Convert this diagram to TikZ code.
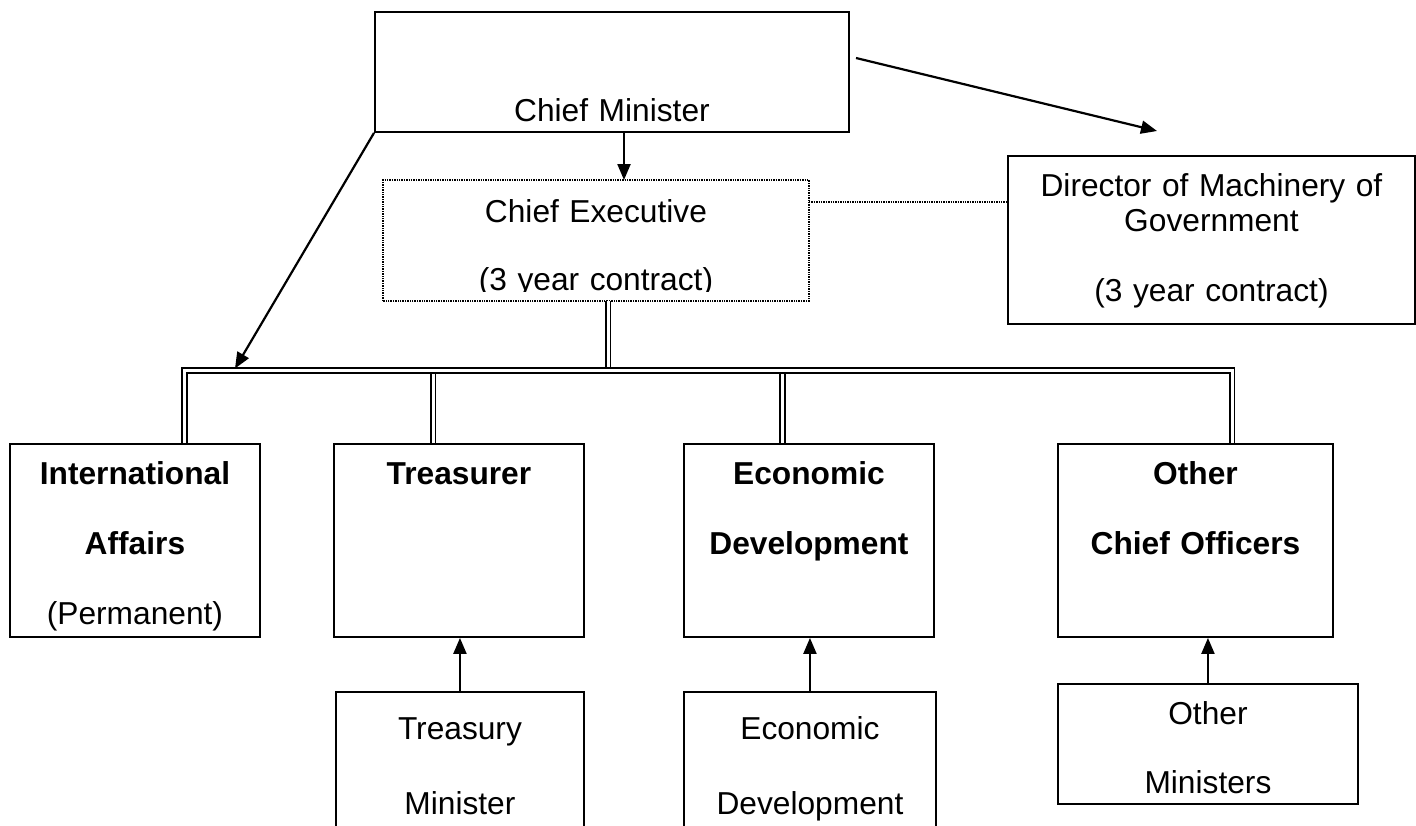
\documentclass[tikz,border=0pt]{standalone}
\usepackage{fontspec}
\setmainfont{Liberation Sans}
\usetikzlibrary{arrows.meta}

\begin{document}
\begin{tikzpicture}[x=1pt,y=-1pt]

		% Define styles
		\tikzstyle{post} = [
		rectangle, anchor=north west, draw=black, line width=1.9pt,
		inner sep=0pt, align=center, font=\fontsize{31.7}{35}\selectfont]
		\tikzstyle{chief} = [post, font=\fontsize{31.7}{35}\selectfont\bfseries]
		\tikzstyle{contract} = [draw=black, densely dotted, line width=1.4pt]
		\tikzstyle{arrow} = [line width=2.2pt, -{Triangle[length=16pt,width=13pt]}]
		\tikzstyle{link} = [line width=1.7pt, double, double distance=3pt]

		\useasboundingbox (0,0) rectangle (1416,825);

		% Top posts
		\node (cm) [post, text width=474pt, text height=110pt, text depth=10pt]
			at (374,11) {Chief Minister};

		\begin{scope}
			\clip (383,180) rectangle (808,291.5);
			\node (ce) [post, draw=none, text width=424pt, text height=42pt,
				text depth=77pt] at (383,180) {Chief Executive\\[33pt](3 year contract)};
		\end{scope}
		\draw [contract] (ce.south west) rectangle (ce.north east);

		\node (dir) [post, text width=407pt, text height=41pt, text depth=127pt]
			at (1007,155) {Director of Machinery of\\Government\\[35pt](3 year contract)};

		% Chief officers
		\node (intl) [chief, text width=250pt, text height=41pt, text depth=152pt]
			at (9,443) {International\\[35pt]Affairs\\[35pt]\mdseries(Permanent)};
		\node (treas) [chief, text width=250pt, text height=41pt, text depth=152pt]
			at (333,443) {Treasurer};
		\node (econ) [chief, text width=250pt, text height=41pt, text depth=152pt]
			at (683,443) {Economic\\[35pt]Development};
		\node (other) [chief, text width=275pt, text height=41pt, text depth=152pt]
			at (1057,443) {Other\\[35pt]Chief Officers};

		% Ministers
		\node (treasmin) [post, text width=248pt, text height=48pt, text depth=101pt]
			at (335,691) {Treasury\\[40pt]Minister};
		\node (econmin) [post, text width=252pt, text height=48pt, text depth=101pt]
			at (683,691) {Economic\\[40pt]Development};
		\node (othermin) [post, text width=300pt, text height=41pt, text depth=79pt]
			at (1057,683) {Other\\[34pt]Ministers};

		\coordinate (busw) at (184.5,370.5);
		\coordinate (buse) at (1232,370.5);
		\coordinate (intltip) at (235,368.5);
		\coordinate (cmright) at (856,58);
		\coordinate (dirtip) at (1157,131);

		% Double lines
		\draw [link] (ce.south -| 608,0) -- (busw -| 608,0);
		\foreach \n/\x in {treas/433, econ/782.5}
			\draw [link] (\n.north -| \x,0) -- (busw -| \x,0);
		\draw [link] (intl.north -| busw) -- (busw) -- (buse) -- (other.north -| buse);

		% Arrows
		\draw [arrow] (cm.south -| 624,0) -- (ce.north -| 624,0);
		\draw [arrow] (cm.south west) -- (intltip);
		\draw [arrow] (cmright) -- (dirtip);
		\draw [contract] (ce.east |- 0,202) -- (dir.west |- 0,202);
		\draw [arrow] (treasmin.north) -- (treasmin.north |- treas.south);
		\draw [arrow] (econmin.north) -- (econmin.north |- econ.south);
		\draw [arrow] (othermin.north) -- (othermin.north |- other.south);
	\end{tikzpicture}
\end{document}
